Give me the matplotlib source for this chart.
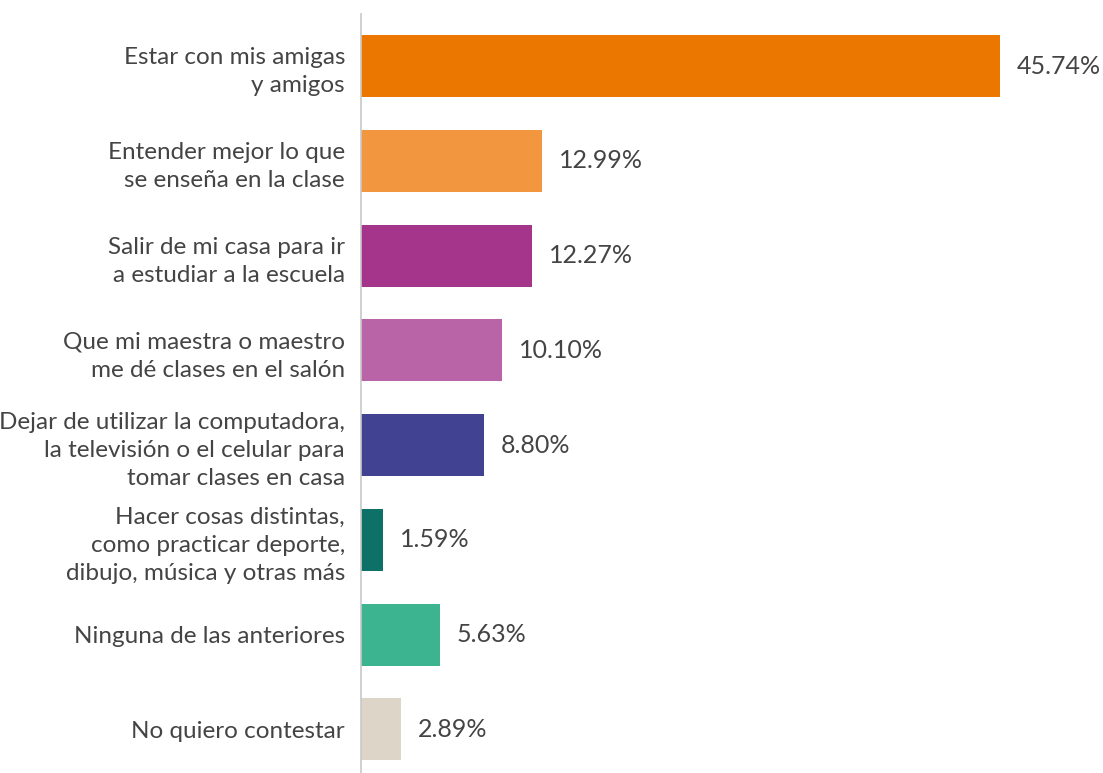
import numpy as np
import matplotlib.pyplot as plt

labels = [
    "Estar con mis amigas\ny amigos",
    "Entender mejor lo que\nse enseña en la clase",
    "Salir de mi casa para ir\na estudiar a la escuela",
    "Que mi maestra o maestro\nme dé clases en el salón",
    "Dejar de utilizar la computadora,\nla televisión o el celular para\ntomar clases en casa",
    "Hacer cosas distintas,\ncomo practicar deporte,\ndibujo, música y otras más",
    "Ninguna de las anteriores",
    "No quiero contestar",
]
values = [45.74, 12.99, 12.27, 10.10, 8.80, 1.59, 5.63, 2.89]
colors = ["#EC7700", "#F29740", "#A5358A", "#B864A6",
          "#414291", "#0E7168", "#3BB48F", "#DDD5C7"]

plt.rcParams['font.family'] = ['Lato', 'DejaVu Sans']

fig = plt.figure(figsize=(11.03, 7.73), dpi=100)
ax = fig.add_axes([361/1103, 0, (1100-361)/1103, 759/773])

y = np.arange(len(values))
ax.barh(y, values, height=0.655, color=colors)
for yi, v in zip(y, values):
    ax.text(v + 1.2, yi, "%.2f%%" % v, va='center', ha='left',
            fontsize=18, color='#444444')

ax.set_yticks(y)
ax.set_yticklabels(labels, fontsize=17.5, color='#444444', linespacing=1.42)
ax.tick_params(axis='y', length=0, pad=11.5)
ax.set_xticks([])
ax.set_xlim(0, (1100-361)/13.97)
ax.set_ylim(len(values) - 0.54, -0.55)
for s in ['top', 'right', 'bottom']:
    ax.spines[s].set_visible(False)
ax.spines['left'].set_color('#C8C8C8')
ax.spines['left'].set_linewidth(1.2)

fig.savefig("out.png", dpi=100)
